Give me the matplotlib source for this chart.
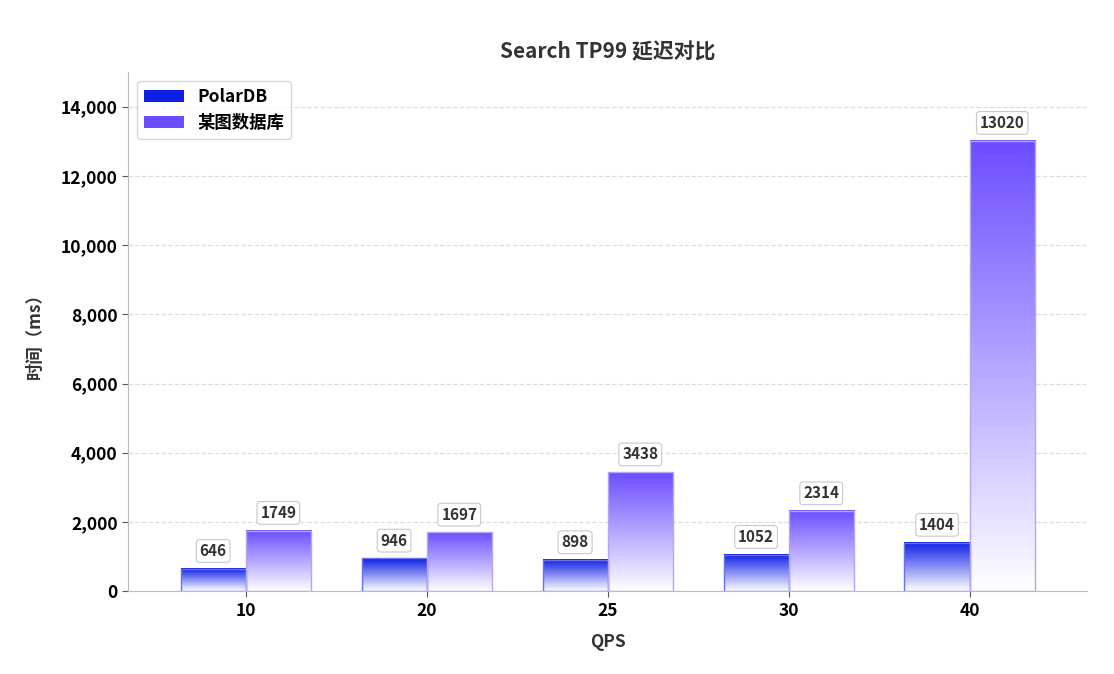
import numpy as np
import matplotlib
matplotlib.use("Agg")
import matplotlib.pyplot as plt
from matplotlib.colors import LinearSegmentedColormap
from matplotlib.patches import Patch

plt.rcParams['font.family'] = ['Noto Sans CJK SC', 'DejaVu Sans']

qps = ['10', '20', '25', '30', '40']
polardb = [646, 946, 898, 1052, 1404]
other_db = [1749, 1697, 3438, 2314, 13020]
series_names = ['PolarDB', '某图数据库']

blue = '#0f1fe6'
purple = '#6c4dff'

fig = plt.figure(figsize=(11.14, 6.74), dpi=100)
ax = fig.add_axes([0.115, 0.123, 0.861, 0.770])

x = np.arange(len(qps))
w = 0.36
grad = np.linspace(1, 0, 256).reshape(-1, 1)


def grad_bars(xs, vals, color, edge):
    cmap = LinearSegmentedColormap.from_list('g', ['#ffffff', color])
    bars = ax.bar(xs, vals, w, facecolor='none', edgecolor=edge, linewidth=1.0, zorder=3)
    for b in bars:
        x0, y0 = b.get_x(), b.get_y()
        ax.imshow(grad, extent=[x0, x0 + b.get_width(), y0, y0 + b.get_height()],
                  aspect='auto', cmap=cmap, vmin=0, vmax=1, zorder=2, origin='upper')
    for b, v in zip(bars, vals):
        ax.annotate(str(v), (b.get_x() + b.get_width() / 2, v), xytext=(0, 7),
                    textcoords='offset points', ha='center', va='bottom',
                    fontsize=11, fontweight='bold', color='#333333', zorder=5,
                    bbox=dict(boxstyle='round,pad=0.22', fc='white', ec='#c8c8c8', lw=0.8))
    return bars


grad_bars(x - w / 2, polardb, blue, '#6a72e8')
grad_bars(x + w / 2, other_db, purple, '#b3a6f5')

ax.set_xlim(-0.65, 4.65)
ax.set_ylim(0, 15000)
ax.set_yticks(range(0, 15000, 2000))
ax.set_yticklabels([f'{v:,}' for v in range(0, 15000, 2000)])
ax.set_xticks(x)
ax.set_xticklabels(qps)
ax.tick_params(labelsize=12.5, colors='#555555', labelcolor='black', length=4)
for lab in ax.get_xticklabels() + ax.get_yticklabels():
    lab.set_fontweight('bold')

ax.grid(axis='y', linestyle='--', color='#dddddd', linewidth=0.9, zorder=0)
ax.set_axisbelow(True)
for s in ['top', 'right']:
    ax.spines[s].set_visible(False)
for s in ['left', 'bottom']:
    ax.spines[s].set_color('#bbbbbb')

ax.set_title('Search TP99 延迟对比', fontsize=15, fontweight='bold', color='#333333', pad=10)
ax.set_xlabel('QPS', fontsize=12.5, fontweight='bold', color='#333333', labelpad=10)
ax.set_ylabel('时间（ms）', fontsize=12.5, fontweight='bold', color='#333333', labelpad=12)

handles = [Patch(facecolor=blue), Patch(facecolor=purple)]
leg = ax.legend(handles, series_names, loc='upper left', frameon=True,
                prop={'weight': 'bold', 'size': 12.5}, handlelength=2.3, borderpad=0.4)
leg.get_frame().set_edgecolor('#cccccc')

fig.savefig('out.png', dpi=100, facecolor='white')
